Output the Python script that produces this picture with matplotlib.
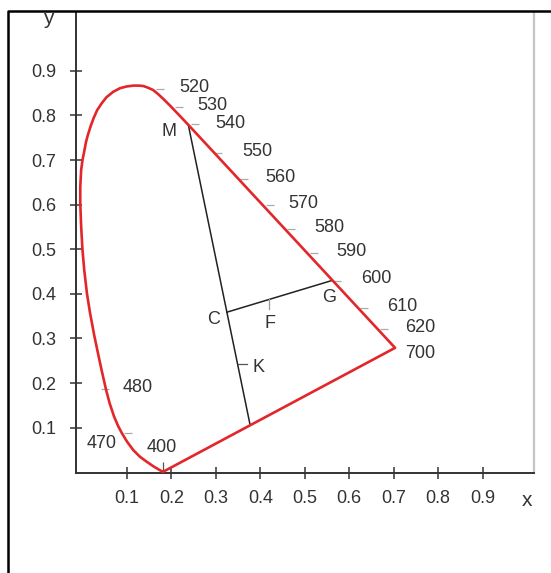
import matplotlib.pyplot as plt
from matplotlib.lines import Line2D

plt.rcParams["font.family"] = ["Liberation Sans", "DejaVu Sans"]

# traced spectral locus (from 400 nm up the blue side, over the top, down to 700 nm)
locus_x = [0.181, 0.177, 0.160, 0.144, 0.129, 0.114, 0.100, 0.089, 0.080, 0.071,
           0.061, 0.053, 0.048, 0.043, 0.038, 0.027, 0.017, 0.010, 0.004, 0.000,
           -0.003, -0.005, -0.005, -0.003, 0.000, 0.004, 0.008, 0.012, 0.018, 0.025,
           0.033, 0.043, 0.054, 0.069, 0.084, 0.099, 0.115, 0.127, 0.137, 0.148,
           0.159, 0.170, 0.183, 0.198, 0.219, 0.238, 0.703, 0.181]
locus_y = [0.001, 0.003, 0.013, 0.024, 0.035, 0.050, 0.069, 0.087, 0.104, 0.125,
           0.155, 0.185, 0.207, 0.229, 0.252, 0.304, 0.357, 0.401, 0.453, 0.498,
           0.551, 0.603, 0.640, 0.678, 0.700, 0.720, 0.741, 0.756, 0.775, 0.794,
           0.812, 0.827, 0.841, 0.853, 0.861, 0.865, 0.867, 0.867, 0.866, 0.862,
           0.857, 0.848, 0.836, 0.821, 0.799, 0.779, 0.279, 0.001]

# wavelength marks along the locus
wl_labels = ["520", "530", "540", "550", "560", "570", "580", "590", "600", "610", "620", "480", "470"]
wl_x = [0.174, 0.216, 0.253, 0.305, 0.363, 0.422, 0.469, 0.521, 0.572, 0.633, 0.678, 0.051, 0.102]
wl_y = [0.859, 0.819, 0.781, 0.716, 0.657, 0.599, 0.545, 0.492, 0.430, 0.369, 0.321, 0.187, 0.088]
wl_offsets = [(35, 2), (34, 2), (35, 0), (39, 1), (37, 2), (33, 2), (38, 2), (37, 1),
              (40, 2), (38, 1), (36, 2), (33, 1), (-26, -10)]

# construction points
M = (0.238, 0.779)
B = (0.377, 0.106)
C = (0.325, 0.359)
G = (0.561, 0.430)
F = (0.420, 0.388)
K = (0.349, 0.243)
P400 = (0.181, 0.001)
P700 = (0.703, 0.279)

ticks = [0.1, 0.2, 0.3, 0.4, 0.5, 0.6, 0.7, 0.8, 0.9]
tick_labels = ["0.1", "0.2", "0.3", "0.4", "0.5", "0.6", "0.7", "0.8", "0.9"]

W, H = 551, 573
fig = plt.figure(figsize=(W / 100, H / 100), dpi=100)
ax = fig.add_axes([76 / W, 1 - 473 / H, (534 - 76) / W, (473 - 12) / H])
ax.set_xlim(-0.0146, 1.0155)
ax.set_ylim(-0.0016, 1.032)

txt = "#333333"
red = "#e3262a"
fs = 13

ax.plot(locus_x, locus_y, color=red, lw=1.9, solid_joinstyle="round", zorder=3)

# construction lines
ax.plot([M[0], B[0]], [M[1], B[1]], color="#222222", lw=1.1, zorder=2)
ax.plot([C[0], G[0]], [C[1], G[1]], color="#222222", lw=1.1, zorder=2)
ax.plot([F[0], F[0]], [F[1], F[1] - 0.022], color="#999999", lw=0.9)
ax.plot([K[0], K[0] + 0.022], [K[1], K[1]], color="#555555", lw=0.9)

for lab, x, y in [("M", 0.195, 0.765), ("C", 0.294, 0.343), ("G", 0.554, 0.393),
                  ("F", 0.422, 0.334), ("K", 0.395, 0.236)]:
    ax.text(x, y, lab, fontsize=fs, color=txt, ha="center", va="center")

# wavelength ticks and labels
ax.plot(wl_x, wl_y, linestyle="none", marker="_", markersize=6, color="#aaaaaa", mew=0.9)
for lab, x, y, (dx, dy) in zip(wl_labels, wl_x, wl_y, wl_offsets):
    ax.annotate(lab, (x, y), xytext=(dx * 0.72, dy * 0.72), textcoords="offset points",
                fontsize=fs, color=txt, ha="center", va="center")
ax.plot([P400[0]], [P400[1] + 0.012], linestyle="none", marker="|", markersize=6,
        color="#555555", mew=0.9)
ax.annotate("400", (P400[0], P400[1] + 0.012), xytext=(-1 * 0.72, 19 * 0.72),
            textcoords="offset points", fontsize=fs, color=txt, ha="center", va="center")
ax.annotate("700", P700, xytext=(25 * 0.72, -6 * 0.72), textcoords="offset points",
            fontsize=fs, color=txt, ha="center", va="center")

# axes styling
ax.set_xticks(ticks)
ax.set_xticklabels(tick_labels)
ax.set_yticks(ticks)
ax.set_yticklabels(tick_labels)
ax.tick_params(axis="both", direction="inout", length=8, width=1.1, color=txt,
               labelsize=fs, labelcolor=txt)
ax.tick_params(axis="x", pad=8)
ax.tick_params(axis="y", pad=10)
ax.spines["top"].set_visible(False)
ax.spines["right"].set_color("#c4c4c4")
ax.spines["right"].set_linewidth(1.6)
for s in ["left", "bottom"]:
    ax.spines[s].set_color(txt)
    ax.spines[s].set_linewidth(1.4)

fig.text(527 / W, 1 - 500 / H, "x", fontsize=15, color=txt, ha="center", va="center")
fig.text(48 / W, 1 - 18 / H, "y", fontsize=15, color=txt, ha="center", va="center")

# outer frame: only left and top edges fall inside the picture
fx, fy = 8 / W, 1 - 11 / H
fig.lines.append(Line2D([fx, fx, 1.0], [0.0, fy, fy], transform=fig.transFigure,
                        color="black", lw=1.8))

fig.savefig("out.png", dpi=100)
